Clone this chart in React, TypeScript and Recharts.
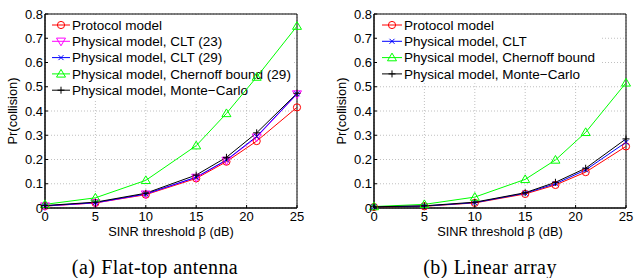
import React from 'react';
import { LineChart, Line, XAxis, YAxis, CartesianGrid, ReferenceArea, Customized } from 'recharts';

const BETA = [0, 5, 10, 15, 18, 21, 25];
const Y_TICKS = [0, 0.1, 0.2, 0.3, 0.4, 0.5, 0.6, 0.7, 0.8];
const X_TICKS = [0, 5, 10, 15, 20, 25];

// (a) flat-top antenna
const flatProtocol = [0.008, 0.021, 0.055, 0.122, 0.191, 0.276, 0.415];
const flatClt23 = [0.008, 0.021, 0.057, 0.126, 0.196, 0.292, 0.47];
const flatClt29 = [0.009, 0.022, 0.058, 0.127, 0.198, 0.295, 0.471];
const flatChernoff = [0.015, 0.042, 0.114, 0.257, 0.39, 0.54, 0.75];
const flatMonteCarlo = [0.01, 0.024, 0.061, 0.136, 0.209, 0.31, 0.473];

// (b) linear array
const linProtocol = [0.004, 0.007, 0.021, 0.058, 0.095, 0.148, 0.254];
const linClt = [0.005, 0.008, 0.022, 0.061, 0.1, 0.157, 0.271];
const linChernoff = [0.006, 0.015, 0.045, 0.118, 0.198, 0.312, 0.516];
const linMonteCarlo = [0.005, 0.009, 0.024, 0.063, 0.106, 0.164, 0.285];

type MarkerKind = 'circle' | 'tdown' | 'x' | 'tup' | 'plus';

interface Series {
  name: string;
  color: string;
  marker: MarkerKind;
  values: number[];
}

const flatSeries: Series[] = [
  { name: 'Protocol model', color: '#ff0000', marker: 'circle', values: flatProtocol },
  { name: 'Physical model, CLT (23)', color: '#ff00ff', marker: 'tdown', values: flatClt23 },
  { name: 'Physical model, CLT (29)', color: '#0000ff', marker: 'x', values: flatClt29 },
  { name: 'Physical model, Chernoff bound (29)', color: '#00ff00', marker: 'tup', values: flatChernoff },
  { name: 'Physical model, Monte\u2212Carlo', color: '#000000', marker: 'plus', values: flatMonteCarlo },
];

const linSeries: Series[] = [
  { name: 'Protocol model', color: '#ff0000', marker: 'circle', values: linProtocol },
  { name: 'Physical model, CLT', color: '#0000ff', marker: 'x', values: linClt },
  { name: 'Physical model, Chernoff bound', color: '#00ff00', marker: 'tup', values: linChernoff },
  { name: 'Physical model, Monte\u2212Carlo', color: '#000000', marker: 'plus', values: linMonteCarlo },
];

const SANS = '"Liberation Sans", Arial, sans-serif';
const SERIF = '"Liberation Serif", "Times New Roman", serif';

function Marker({ kind, cx, cy, color }: { kind: MarkerKind; cx: number; cy: number; color: string }) {
  const p = { fill: 'none', stroke: color, strokeWidth: 1 };
  if (kind === 'circle') return <circle cx={cx} cy={cy} r={3.6} {...p} />;
  if (kind === 'tup')
    return <polygon points={`${cx},${cy - 4.5} ${cx - 4.5},${cy + 3.2} ${cx + 4.5},${cy + 3.2}`} {...p} />;
  if (kind === 'tdown')
    return <polygon points={`${cx},${cy + 4.5} ${cx - 4.5},${cy - 3.2} ${cx + 4.5},${cy - 3.2}`} {...p} />;
  if (kind === 'x')
    return <path d={`M${cx - 2.5},${cy - 2.5}L${cx + 2.5},${cy + 2.5}M${cx - 2.5},${cy + 2.5}L${cx + 2.5},${cy - 2.5}`} {...p} />;
  return <path d={`M${cx - 3.5},${cy}L${cx + 3.5},${cy}M${cx},${cy - 3.5}L${cx},${cy + 3.5}`} {...p} />;
}

function fmtY(v: number) {
  return v === 0 ? '0' : v.toFixed(1);
}

function XTick(props: any) {
  const { x, y, payload } = props;
  const axisY = y - 4;
  return (
    <g>
      <line x1={x} x2={x} y1={axisY} y2={axisY - 3} stroke="#000" />
      <text x={x} y={y} dy="0.71em" textAnchor="middle" fontSize={13} fontFamily={SANS} fill="#000">
        {payload.value}
      </text>
    </g>
  );
}

function YTick(props: any) {
  const { x, y, payload } = props;
  const axisX = x + 2;
  return (
    <g>
      <line x1={axisX} x2={axisX + 3} y1={y} y2={y} stroke="#000" />
      <text x={x} y={y} dy="0.36em" textAnchor="end" fontSize={13} fontFamily={SANS} fill="#000">
        {fmtY(payload.value)}
      </text>
    </g>
  );
}

// legend drawn inside the svg so the data lines pass over it, grid stays hidden
function LegendBox({ series, left, boxWidth, sampleWidth }: { series: Series[]; left: number; boxWidth: number; sampleWidth: number }) {
  const top = 16;
  const rowH = 16.3;
  return (
    <g>
      <rect x={left} y={top} width={boxWidth} height={series.length * rowH + 2} fill="#fff" />
      {series.map((s, i) => {
        const cy = top + 9 + i * rowH;
        const x0 = left + 5;
        return (
          <g key={s.name}>
            <line x1={x0} x2={x0 + sampleWidth} y1={cy} y2={cy} stroke={s.color} strokeWidth={1} />
            <Marker kind={s.marker} cx={x0 + sampleWidth / 2} cy={cy} color={s.color} />
            <text x={x0 + sampleWidth + 2} y={cy} dy="0.36em" fontSize={13.5} fontFamily={SANS} fill="#000">
              {s.name}
            </text>
          </g>
        );
      })}
    </g>
  );
}

interface PanelProps {
  series: Series[];
  width: number;
  yAxisWidth: number;
  rightMargin: number;
  yLabelX: number;
  legendLeft: number;
  legendWidth: number;
  sampleWidth: number;
}

function Panel({ series, width, yAxisWidth, rightMargin, yLabelX, legendLeft, legendWidth, sampleWidth }: PanelProps) {
  const rows = BETA.map((b, i) => {
    const r: Record<string, number> = { beta: b };
    series.forEach((s, k) => (r[`s${k}`] = s.values[i]));
    return r;
  });
  return (
    <LineChart width={width} height={240} data={rows} margin={{ top: 14, right: rightMargin, bottom: 0, left: 0 }}>
      <CartesianGrid stroke="#b0b0b0" strokeDasharray="1 2" strokeWidth={0.8} />
      <XAxis
        dataKey="beta"
        type="number"
        domain={[0, 25]}
        ticks={X_TICKS}
        height={32}
        tickSize={0}
        tickMargin={4}
        tick={<XTick />}
        stroke="#000"
        interval={0}
        label={(p: any) => {
          const vb = p.viewBox;
          return (
            <text x={vb.x + vb.width / 2} y={236} textAnchor="middle" fontSize={12.8} fontFamily={SANS} fill="#000">
              SINR threshold β (dB)
            </text>
          );
        }}
      />
      <YAxis
        type="number"
        domain={[0, 0.8]}
        ticks={Y_TICKS}
        width={yAxisWidth}
        tickSize={0}
        tickMargin={2}
        tick={<YTick />}
        stroke="#000"
        interval={0}
        label={(p: any) => {
          const vb = p.viewBox;
          const cy = vb.y + vb.height / 2;
          return (
            <text
              x={yLabelX}
              y={cy}
              transform={`rotate(-90, ${yLabelX}, ${cy})`}
              textAnchor="middle"
              dominantBaseline="central"
              fontSize={12.8}
              fontFamily={SANS}
              fill="#000"
            >
              Pr(collision)
            </text>
          );
        }}
      />
      <Customized component={<LegendBox series={series} left={legendLeft} boxWidth={legendWidth} sampleWidth={sampleWidth} />} />
      <ReferenceArea x1={0} x2={25} y1={0} y2={0.8} fill="none" stroke="#000" strokeWidth={1} />
      {series.map((s, k) => (
        <Line
          key={s.name}
          dataKey={`s${k}`}
          stroke={s.color}
          strokeWidth={1}
          isAnimationActive={false}
          dot={(d: any) => <Marker key={`${k}-${d.index}`} kind={s.marker} cx={d.cx} cy={d.cy} color={s.color} />}
          activeDot={false}
        />
      ))}
    </LineChart>
  );
}

export default function App() {
  const capStyle: React.CSSProperties = {
    position: 'absolute',
    top: 256,
    textAlign: 'center',
    fontFamily: SERIF,
    fontSize: 20,
    letterSpacing: 0.4,
    lineHeight: '22px',
    whiteSpace: 'nowrap',
  };
  return (
    <div style={{ position: 'absolute', left: 0, top: 0, width: 634, height: 278, background: '#fff' }}>
      <div style={{ position: 'absolute', left: 0, top: 0 }}>
        <Panel series={flatSeries} width={320} yAxisWidth={45} rightMargin={23} yLabelX={12} legendLeft={47} legendWidth={246} sampleWidth={18} />
      </div>
      <div style={{ position: 'absolute', left: 320, top: 0 }}>
        <Panel series={linSeries} width={314} yAxisWidth={54} rightMargin={8} yLabelX={21} legendLeft={57} legendWidth={224} sampleWidth={20} />
      </div>
      <div style={{ ...capStyle, left: 0, width: 310 }}>
        <span style={{ marginRight: 6 }}>(a)</span>Flat-top antenna
      </div>
      <div style={{ ...capStyle, left: 320, width: 340 }}>
        <span style={{ marginRight: 6 }}>(b)</span>Linear array
      </div>
    </div>
  );
}
